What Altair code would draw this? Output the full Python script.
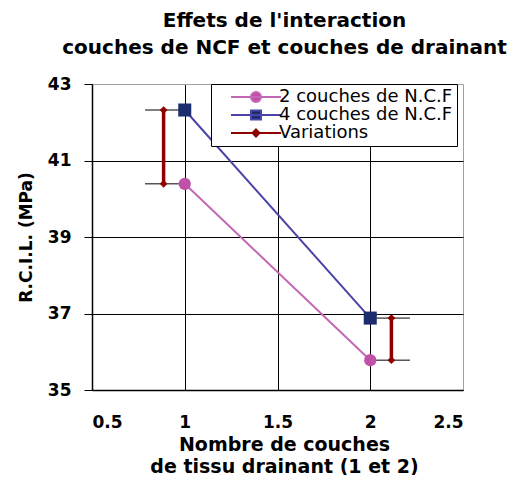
import altair as alt
import pandas as pd

drain = [1, 2]
ncf2 = [40.39, 35.78]
ncf4 = [42.32, 36.88]
var_x = [0.886, 2.114]
series = ["2 couches de N.C.F", "4 couches de N.C.F", "Variations"]
x_ticks = [0.5, 1, 1.5, 2, 2.5]
y_ticks = [35, 37, 39, 41, 43]

marker_colors = ["#C050A8", "#1C2D6E", "#8E0000"]
line_colors = ["#C468B6", "#4B44A8", "#8E0000"]

lines_df = pd.DataFrame({
    "x": drain * 2,
    "y": ncf2 + ncf4,
    "series": [series[0]] * 2 + [series[1]] * 2,
})
var_df = pd.DataFrame({"x": var_x, "low": ncf2, "high": ncf4, "series": series[2]})
var_pts = pd.DataFrame({"x": var_x * 2, "y": ncf2 + ncf4, "series": [series[2]] * 4})
pts_df = pd.concat([lines_df, var_pts], ignore_index=True)

FONT = "DejaVu Sans"

xscale = alt.Scale(domain=[0.5, 2.5], nice=False, zero=False)
yscale = alt.Scale(domain=[35, 43], nice=False, zero=False)

xaxis = alt.Axis(
    values=x_ticks, format="~g", ticks=False, labelPadding=24,
    labelFontSize=17, labelFontWeight="bold", labelFont=FONT, labelColor="black",
    title=["Nombre de couches", "de tissu drainant (1 et 2)"],
    titleFontSize=19, titleFontWeight="bold", titleFont=FONT, titleColor="black",
    titleLineHeight=22, titlePadding=5, titleX=192,
    domainColor="black", domainWidth=1.5,
    gridColor={"condition": {"test": "datum.value === 2.5", "value": "#a0a0a0"}, "value": "black"},
    gridOpacity=1,
)
yaxis = alt.Axis(
    values=y_ticks, tickSize=8, tickColor="black", labelPadding=13,
    labelFontSize=17, labelFontWeight="bold", labelFont=FONT, labelColor="black",
    title="R.C.I.L. (MPa)", titleFontSize=17, titleFontWeight="bold", titleFont=FONT,
    titleColor="black", titlePadding=12,
    domainColor="black", domainWidth=1.5,
    gridColor={"condition": {"test": "datum.value === 43", "value": "#a0a0a0"}, "value": "black"},
    gridOpacity=1,
)

legend_paths = [
    "M-5,0H5M1,0A1,1 0 1,1 -1,0A1,1 0 1,1 1,0Z",
    "M-5,0H5M-1,-0.9H1V0.9H-1Z",
    "M-5,0H5M0,-0.7L0.7,0L0,0.7L-0.7,0Z",
]

legend = alt.Legend(
    title=None, orient="none", legendX=119, legendY=0,
    strokeColor="black", fillColor="white", padding=4,
    symbolSize=100, symbolOffset=32, labelOffset=14, symbolStrokeWidth=2,
    symbolOpacity=1, labelLimit=400,
    labelFontSize=18, labelFont=FONT, labelColor="black", rowPadding=-9,
)

fill_scale = alt.Scale(domain=series, range=marker_colors)
stroke_scale = alt.Scale(domain=series, range=line_colors)
shape_scale = alt.Scale(domain=series, range=legend_paths)

layers = []
for i in range(2):
    layers.append(
        alt.Chart(lines_df).transform_filter(alt.datum.series == series[i])
        .mark_line(strokeWidth=2, color=line_colors[i])
        .encode(
            x=alt.X("x:Q", scale=xscale, axis=xaxis),
            y=alt.Y("y:Q", scale=yscale, axis=yaxis),
        )
    )

layers.append(
    alt.Chart(var_pts).transform_calculate(
        x1="datum.x - 0.1", x2="datum.x + 0.1"
    ).mark_rule(color="black", strokeWidth=1).encode(
        x="x1:Q", x2="x2:Q", y="y:Q",
    )
)

layers.append(
    alt.Chart(var_df).mark_rule(strokeWidth=3.5, color=line_colors[2]).encode(
        x="x:Q", y="low:Q", y2="high:Q",
    )
)

marker_shapes = ["circle", "square", "diamond"]
marker_sizes = [150, 170, 60]
for s, shp, sz, col in zip(series, marker_shapes, marker_sizes, marker_colors):
    layers.append(
        alt.Chart(pts_df).transform_filter(alt.datum.series == s)
        .mark_point(filled=True, opacity=1, shape=shp, size=sz, strokeWidth=0, color=col)
        .encode(x="x:Q", y="y:Q")
    )

layers.append(
    alt.Chart(pts_df).transform_filter("false").mark_point(
        filled=True, opacity=1, strokeWidth=2
    ).encode(
        x="x:Q", y="y:Q",
        fill=alt.Fill("series:N", scale=fill_scale, legend=legend),
        stroke=alt.Stroke("series:N", scale=stroke_scale, legend=legend),
        shape=alt.Shape("series:N", scale=shape_scale, legend=legend),
    )
)

chart = alt.layer(*layers).properties(
    width=371, height=306,
    autosize=alt.AutoSizeParams(type="none"),
    padding={"left": 84, "top": 76, "right": 45, "bottom": 85},
    title=alt.TitleParams(
        ["Effets de l'interaction", "couches de NCF et couches de drainant"],
        fontSize=20, fontWeight="bold", font=FONT, color="black",
        anchor="middle", dx=7, offset=17, lineHeight=27,
    ),
).configure_view(stroke="#a0a0a0", strokeWidth=1.5).configure(background="white")

chart.save("out.html", embed_options={"renderer": "svg", "actions": False})
